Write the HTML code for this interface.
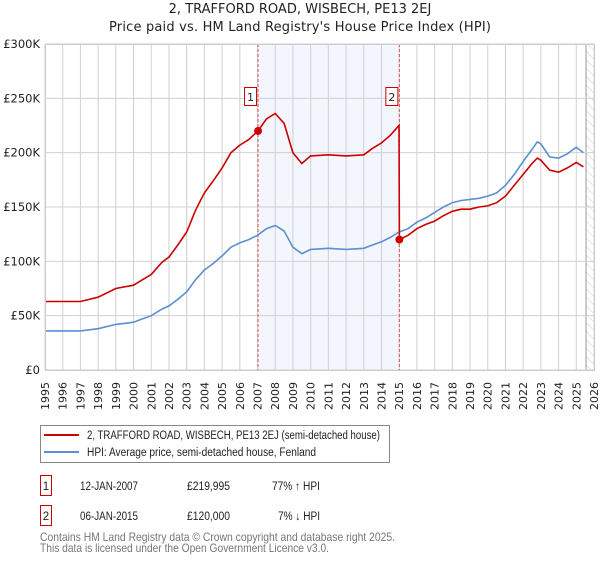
<!DOCTYPE html>
<html><head><meta charset="utf-8"><style>
body{margin:0;background:#fff;font-family:"DejaVu Sans","Liberation Sans",sans-serif;}
svg text{font-family:"DejaVu Sans","Liberation Sans",sans-serif;}
svg text.lib{font-family:"Liberation Sans",sans-serif;}
</style></head><body>
<svg id="c" width="600" height="560" xmlns="http://www.w3.org/2000/svg">
<defs><pattern id="hatch" width="6" height="6" patternUnits="userSpaceOnUse" patternTransform="rotate(-45)"><line x1="0" y1="0" x2="0" y2="6" stroke="#ccc" stroke-width="1"/></pattern></defs>
<text x="300" y="13" text-anchor="middle" font-size="13" fill="#222">2, TRAFFORD ROAD, WISBECH, PE13 2EJ</text>
<text x="300" y="31" text-anchor="middle" font-size="13" fill="#222" textLength="382">Price paid vs. HM Land Registry's House Price Index (HPI)</text>
<g id="plot"></g>
<g>
<rect x="40.5" y="425.5" width="349" height="37" fill="#fff" stroke="#888"/>
<line x1="44" y1="435" x2="79" y2="435" stroke="#cc0000" stroke-width="2"/>
<text class="lib" x="87" y="439" font-size="11.5" fill="#222" textLength="293" lengthAdjust="spacingAndGlyphs">2, TRAFFORD ROAD, WISBECH, PE13 2EJ (semi-detached house)</text>
<line x1="44" y1="452" x2="79" y2="452" stroke="#5b8fd0" stroke-width="2"/>
<text class="lib" x="87" y="456" font-size="11.5" fill="#222" textLength="229" lengthAdjust="spacingAndGlyphs">HPI: Average price, semi-detached house, Fenland</text>
</g>
<g font-size="11.5" fill="#222">
<rect x="40.5" y="475.5" width="11" height="20" fill="none" stroke="#cc0000"/><text class="lib" x="46" y="490" text-anchor="middle">1</text>
<text class="lib" x="80" y="490" textLength="58" lengthAdjust="spacingAndGlyphs">12-JAN-2007</text><text class="lib" x="187" y="490" textLength="43" lengthAdjust="spacingAndGlyphs">£219,995</text><text class="lib" x="272" y="490" textLength="48" lengthAdjust="spacingAndGlyphs">77% ↑ HPI</text>
<rect x="40.5" y="505.5" width="11" height="20" fill="none" stroke="#cc0000"/><text class="lib" x="46" y="520" text-anchor="middle">2</text>
<text class="lib" x="80" y="520" textLength="58" lengthAdjust="spacingAndGlyphs">06-JAN-2015</text><text class="lib" x="187" y="520" textLength="43" lengthAdjust="spacingAndGlyphs">£120,000</text><text class="lib" x="278" y="520" textLength="42" lengthAdjust="spacingAndGlyphs">7% ↓ HPI</text>
</g>
<text class="lib" x="40" y="541" font-size="12" fill="#777" textLength="355" lengthAdjust="spacingAndGlyphs">Contains HM Land Registry data © Crown copyright and database right 2025.</text>
<text class="lib" x="40" y="552" font-size="12" fill="#777" textLength="289" lengthAdjust="spacingAndGlyphs">This data is licensed under the Open Government Licence v3.0.</text>
</svg>
<script>
const hpiYears=[1995,1996,1997,1998,1999,2000,2000.5,2001,2001.6,2002,2002.5,2003,2003.5,2004,2004.5,2005,2005.5,2006,2006.5,2007,2007.5,2008,2008.5,2009,2009.5,2010,2011,2012,2013,2013.5,2014,2014.5,2015,2015.5,2016,2016.5,2017,2017.5,2018,2018.5,2019,2019.5,2020,2020.5,2021,2021.5,2022,2022.5,2022.8,2023,2023.5,2024,2024.5,2025,2025.4];
const hpiValues=[36,36,36,38,42,44,47,50,56,59,65,72,83,92,98,105,113,117,120,124,130,133,128,113,107,111,112,111,112,115,118,122,127,130,136,140,145,150,154,156,157,158,160,163,170,180,192,203,210,208,196,195,199,205,200];
const priceYears=[1995,1996,1997,1998,1999,2000,2000.5,2001,2001.6,2002,2002.5,2003,2003.5,2004,2004.5,2005,2005.5,2006,2006.5,2007.03,2007.5,2008,2008.5,2009,2009.5,2010,2011,2012,2013,2013.5,2014,2014.5,2014.99,2015.01,2015.5,2016,2016.5,2017,2017.5,2018,2018.5,2019,2019.5,2020,2020.5,2021,2021.5,2022,2022.5,2022.8,2023,2023.5,2024,2024.5,2025,2025.4];
const priceValues=[63,63,63,67,75,78,83,88,99,104,115,127,147,163,174,186,200,207,212,220,231,236,227,200,190,197,198,197,198,204,209,216,225,120,124,130,134,137,142,146,148,148,150,151,154,160,170,180,190,195,193,184,182,186,191,187];
const saleYears=[2007.03,2015.01];
const saleValues=[219.995,120];
const saleLabels=["1","2"];
const yTicks=[0,50,100,150,200,250,300];
const yTickLabels=["£0","£50K","£100K","£150K","£200K","£250K","£300K"];
const xTicks=[1995,1996,1997,1998,1999,2000,2001,2002,2003,2004,2005,2006,2007,2008,2009,2010,2011,2012,2013,2014,2015,2016,2017,2018,2019,2020,2021,2022,2023,2024,2025,2026];

const X0=45,X1=594,Y0=370,Y1=44;
const x=v=>X0+(v-1995)/(2026-1995)*(X1-X0);
const y=v=>Y0-v/300*(Y0-Y1);
const NS="http://www.w3.org/2000/svg";
const g=document.getElementById('plot');
function mk(t,a,p){const e=document.createElementNS(NS,t);for(const k in a)e.setAttribute(k,a[k]);(p||g).appendChild(e);return e;}
let sh=mk('rect',{x:x(saleYears[0]),y:Y1,width:x(saleYears[1])-x(saleYears[0]),height:Y0-Y1,fill:'#f3f6fd'});


let ht=mk('rect',{x:x(2025.55),y:Y1,width:X1-x(2025.55),height:Y0-Y1,fill:'url(#hatch)'});


mk('line',{x1:x(2025.55),x2:x(2025.55),y1:Y1,y2:Y0,stroke:'#999'});
xTicks.forEach((t,i)=>{
  mk('line',{x1:x(t),x2:x(t),y1:Y1,y2:Y0,stroke:'#d0d0d0'});
  const tx=mk('text',{x:0,y:0,transform:`translate(${x(t)+4},382) rotate(-90)`,'text-anchor':'end','font-size':'11',fill:'#222'});
  tx.textContent=t;
  
  
});
yTicks.forEach((t,i)=>{
  mk('line',{x1:X0,x2:X1,y1:y(t),y2:y(t),stroke:'#d0d0d0'});
  const tx=mk('text',{x:40,y:y(t)+4,'text-anchor':'end','font-size':'11.5',fill:'#222'});
  tx.textContent=yTickLabels[i];
  
  
});
saleYears.forEach(s=>{
  const l=mk('line',{x1:x(s),x2:x(s),y1:Y1,y2:Y0,stroke:'#e05555','stroke-dasharray':'3,2'});
  
  
});
function path(xs,vs){return xs.map((v,i)=>(i?'L':'M')+x(v).toFixed(1)+','+y(vs[i]).toFixed(1)).join('');}
const hp=mk('path',{d:path(hpiYears,hpiValues),fill:'none',stroke:'#5b8fd0','stroke-width':1.6});


const pp=mk('path',{d:path(priceYears,priceValues),fill:'none',stroke:'#cc0000','stroke-width':1.6});


saleYears.forEach((s,i)=>{
  const c=mk('circle',{cx:x(s),cy:y(saleValues[i]),r:4,fill:'#cc0000'});
  
  
  const r=mk('rect',{x:x(s)-13.5,y:87.5,width:12,height:18,fill:'#fff',stroke:'#cc0000'});
  
  
  const t=mk('text',{x:x(s)-7.5,y:101,'text-anchor':'middle','font-size':'11',fill:'#222'});
  t.textContent=saleLabels[i];
  
  
});
mk('rect',{x:X0+.5,y:Y1+.5,width:X1-X0,height:Y0-Y1,fill:'none',stroke:'#ccc'});
</script>
</body></html>
